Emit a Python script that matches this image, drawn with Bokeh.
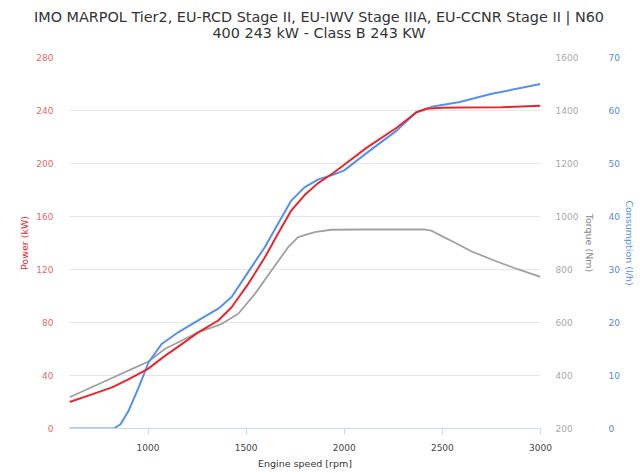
from bokeh.plotting import figure
from bokeh.models import Range1d, LinearAxis, FixedTicker, Div
from bokeh.layouts import column
from bokeh.embed import file_html
from bokeh.resources import INLINE

# ---- data ----
rpm_power = [600, 700, 817, 900, 1000, 1088, 1156, 1256, 1358, 1426, 1510, 1595, 1662, 1730, 1797,
             1865, 1946, 2000, 2115, 2267, 2368, 2419, 2500, 2589, 2800, 3000]
power_kw = [20, 25, 31, 37, 45, 55, 62, 72.5, 81.5, 91.5, 109, 129, 147, 164.5, 176,
            185, 193, 199, 212, 227, 238.7, 241.3, 242, 242.2, 242.5, 243.5]

rpm_torque = [600, 800, 919, 1000, 1088, 1256, 1376, 1460, 1545, 1629, 1714, 1765, 1849, 1934,
              2086, 2407, 2442, 2500, 2560, 2650, 2764, 2880, 3000]
torque_nm = [318, 385, 425, 452, 501, 563, 595, 633, 708, 796, 884, 922, 941, 950,
             951, 951, 947, 925, 903, 868, 834, 802, 772]

rpm_cons = [600, 826, 860, 902, 953, 1003, 1071, 1156, 1256, 1358, 1426, 1510, 1595, 1662, 1730,
            1797, 1868, 1946, 2000, 2115, 2267, 2368, 2453, 2589, 2746, 3000]
cons_lh = [0, 0, 0.8, 3.4, 7.8, 12.5, 16, 18.2, 20.4, 22.6, 24.8, 29.5, 34.2, 38.6, 43,
           45.5, 47, 47.9, 48.7, 52, 56.2, 59.7, 60.75, 61.6, 63.1, 65]

x_ticks = [1000, 1500, 2000, 2500, 3000]
power_ticks = [0, 40, 80, 120, 160, 200, 240, 280]
torque_ticks = [200, 400, 600, 800, 1000, 1200, 1400, 1600]
cons_ticks = [0, 10, 20, 30, 40, 50, 60, 70]

title_1 = "IMO MARPOL Tier2, EU-RCD Stage II, EU-IWV Stage IIIA, EU-CCNR Stage II | N60"
title_2 = "400 243 kW - Class B 243 KW"

FONT = "DejaVu Sans"
RED = "#e8262c"
BLUE = "#5590ee"
GRAY = "#a0a0a0"
W = 638

title_div = Div(text=f"{title_1}<br>{title_2}", width=W, height=32, margin=(9, 0, 0, 0),
                styles={"text-align": "center", "font-family": "'DejaVu Sans', sans-serif",
                        "font-size": "14.4px", "line-height": "16px", "color": "#333333",
                        "width": f"{W}px"})

p = figure(width=W, height=430, output_backend="svg", toolbar_location=None,
           x_range=Range1d(600, 3000), y_range=Range1d(0, 280),
           min_border_left=69, min_border_right=98, min_border_top=16, min_border_bottom=43,
           margin=(0, 0, 0, 0))
p.extra_y_ranges = {"torque": Range1d(200, 1600), "cons": Range1d(0, 70)}
p.outline_line_color = None
p.background_fill_color = "white"
p.border_fill_color = "white"

p.xgrid.visible = False
p.ygrid.grid_line_color = "#e6e6e6"
p.ygrid.ticker = FixedTicker(ticks=power_ticks)

xa = p.xaxis[0]
xa.ticker = FixedTicker(ticks=x_ticks)
xa.axis_label = "Engine speed [rpm]"
xa.axis_line_color = "#ccd6eb"
xa.major_tick_line_color = "#ccd6eb"
xa.major_tick_in = 0
xa.major_tick_out = 6
xa.minor_tick_line_color = None
xa.major_label_text_font = FONT
xa.major_label_text_font_size = "9px"
xa.major_label_text_color = "#444444"
xa.major_label_standoff = 9
xa.axis_label_text_font = FONT
xa.axis_label_text_font_size = "9.5px"
xa.axis_label_text_font_style = "normal"
xa.axis_label_text_color = "#333333"
xa.axis_label_standoff = 4

def style_y(ax, ticks, label, tick_color, label_color, tick_standoff, label_standoff):
    ax.ticker = FixedTicker(ticks=ticks)
    ax.axis_label = label
    ax.axis_line_color = None
    ax.major_tick_line_color = None
    ax.minor_tick_line_color = None
    ax.major_tick_in = 0
    ax.major_tick_out = 0
    ax.major_label_text_font = FONT
    ax.major_label_text_font_size = "9px"
    ax.major_label_text_color = tick_color
    ax.major_label_standoff = tick_standoff
    ax.axis_label_text_font = FONT
    ax.axis_label_text_font_size = "9.5px"
    ax.axis_label_text_font_style = "normal"
    ax.axis_label_text_color = label_color
    ax.axis_label_standoff = label_standoff

style_y(p.yaxis[0], power_ticks, "Power (kW)", "#e26a6a", RED, 16, 3)

ta = LinearAxis(y_range_name="torque")
style_y(ta, torque_ticks, "Torque (Nm)", "#a8a8a8", "#888888", 15, 3)
p.add_layout(ta, "right")

ca = LinearAxis(y_range_name="cons")
style_y(ca, cons_ticks, "Consumption (l/h)", "#5a88d8", BLUE, 10, 1)
p.add_layout(ca, "right")

p.line(rpm_torque, torque_nm, y_range_name="torque", line_color=GRAY, line_width=1.8)
p.line(rpm_cons, cons_lh, y_range_name="cons", line_color=BLUE, line_width=2)
p.line(rpm_power, power_kw, line_color=RED, line_width=2)

layout = column(title_div, p, spacing=0, margin=(0, 0, 0, 0))
open("out.html", "w").write(file_html(layout, INLINE))
